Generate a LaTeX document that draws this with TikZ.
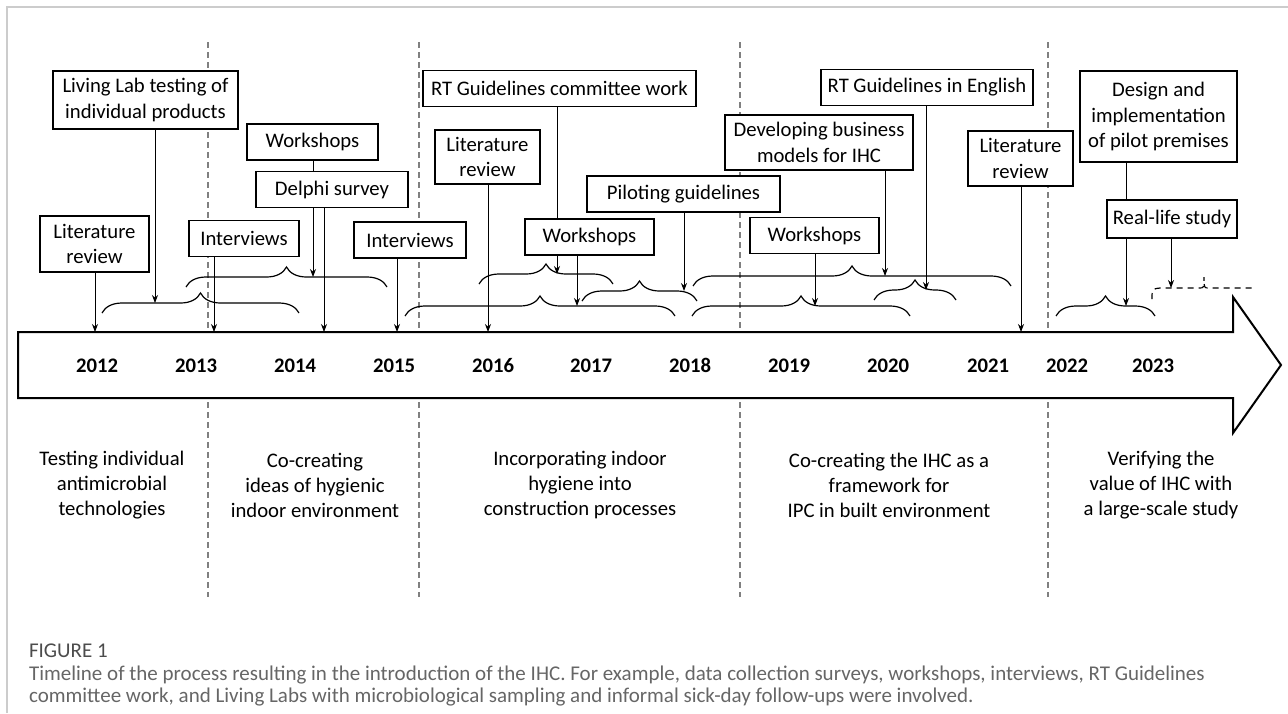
\documentclass[tikz,border=0pt]{standalone}
\usepackage{fontspec}
\setmainfont{Carlito}
\usetikzlibrary{arrows.meta,decorations.pathreplacing}

\begin{document}
\begin{tikzpicture}[x=0.5pt,y=-0.5pt,
    >={Stealth[length=4pt,width=3pt]},
    block/.style={rectangle, draw, line width=0.6pt, fill=white, align=center, inner sep=0pt, minimum height=18pt, font=\fontsize{10.35}{12.8}\selectfont},
    phase/.style={align=center, font=\fontsize{10.35}{12.5}\selectfont},
    year/.style={anchor=base, font=\fontsize{10.35}{12}\selectfont\bfseries},
    divider/.style={gray, line width=0.6pt, dash pattern=on 3pt off 2pt},
    curly/.style={decorate, decoration={brace, amplitude=10pt}, line width=0.6pt},
    caption/.style={anchor=west, text=black!60, font=\fontsize{10.5}{12}\selectfont}]
    \useasboundingbox (0,0) rectangle (1288,713);
    \draw[black!20, line width=1pt] (7,713) -- (7,7) -- (1288,7);

    % phase dividers, then the timeline arrow over them
    \foreach \x in {208,419,740,1048}
        \draw[divider] (\x,42) -- (\x,597);
    \draw[line width=1pt, fill=white] (18,332) -- (1233,332) -- (1233,297) -- (1281,365)
        -- (1233,433) -- (1233,398) -- (18,398) -- cycle;
    \foreach \yr/\x in {2012/97,2013/196,2014/295,2015/394,2016/493,2017/591,2018/690,2019/789,2020/888,2021/988,2022/1067,2023/1153}
        \node[year] (y\yr) at (\x,372) {\yr};

    \node[phase] (p1) at (112,485) {Testing individual\\antimicrobial\\technologies};
    \node[phase] (p2) at (315,485) {Co-creating\\ideas of hygienic\\indoor environment};
    \node[phase] (p3) at (580,485) {Incorporating indoor\\hygiene into\\construction processes};
    \node[phase] (p4) at (889,485) {Co-creating the IHC as a\\framework for\\IPC in built environment};
    \node[phase] (p5) at (1161,485) {Verifying the\\value of IHC with\\a large-scale study};

    % braces over the timeline
    \draw[curly] (102,313) -- (299,313);
    \draw[curly] (186,287) -- (387,287);
    \draw[curly] (479,284) -- (613,284);
    \draw[curly] (582,301) -- (697,301);
    \draw[curly] (405,316) -- (675,316);
    \draw[curly] (693,286) -- (1011,286);
    \draw[curly] (874,300) -- (956,300);
    \draw[curly] (692,316) -- (910,316);
    \draw[curly] (1056,316) -- (1155,316);
    \draw[line width=0.6pt, dash pattern=on 3pt off 2.5pt] (1152,299) .. controls (1152,289) .. (1160,288)
        -- (1199,288) .. controls (1204,288) .. (1204,277) .. controls (1204,288) .. (1209,288) -- (1252,288);

    \coordinate (bA) at (155,303);
    \coordinate (bB) at (313,277);
    \coordinate (bC) at (557,274);
    \coordinate (bD) at (684,291);
    \coordinate (bE) at (577,306);
    \coordinate (bI) at (885,276);
    \coordinate (bG) at (926,290);
    \coordinate (bH) at (815,306);
    \coordinate (bJ) at (1126,306);
    \coordinate (bK) at (1171,288);
    \coordinate (t12) at (95,332);
    \coordinate (t13) at (214,332);
    \coordinate (t14) at (324,332);
    \coordinate (t15) at (397,332);
    \coordinate (t16) at (488,332);
    \coordinate (t21) at (1021,332);

    % 2012-2015
    \node[block, minimum width=92.5pt, minimum height=29pt] (living) at (145.5,100) {Living Lab testing of\\individual products};
    \node[block, minimum width=65.5pt] (ws1) at (312.5,142) {Workshops};
    \draw[->] (ws1.south -| bB) -- (bB);
    \node[block, minimum width=76pt] (delphi) at (332,189.5) {Delphi survey};
    \node[block, minimum width=54.5pt, minimum height=28pt] (lit1) at (94.5,244) {Literature\\review};
    \node[block, minimum width=55pt] (int1) at (244,238.5) {Interviews};
    \node[block, minimum width=56pt] (int2) at (410,240) {Interviews};
    \draw[->] (living.south -| bA) -- (bA);
    \draw[->] (delphi.south -| t14) -- (t14);
    \draw[->] (lit1.south -| t12) -- (t12);
    \draw[->] (int1.south -| t13) -- (t13);
    \draw[->] (int2.south -| t15) -- (t15);

    % 2016-2018
    \node[block, minimum width=136.5pt] (rtc) at (559.5,88.5) {RT Guidelines committee work};
    \draw[->] (rtc.south -| bC) -- (bC);
    \node[block, minimum width=52.5pt, minimum height=27pt] (lit2) at (487.5,157) {Literature\\review};
    \node[block, minimum width=96.5pt] (pilot) at (683.5,194) {Piloting guidelines};
    \node[block, minimum width=64.5pt] (ws2) at (589.5,237) {Workshops};
    \draw[->] (lit2.south -| t16) -- (t16);
    \draw[->] (pilot.south -| bD) -- (bD);
    \draw[->] (ws2.south -| bE) -- (bE);

    % 2019-2021
    \node[block, minimum width=94pt, minimum height=27.5pt] (devel) at (819,142.5) {Developing business\\models for IHC};
    \node[block, minimum width=106pt] (rte) at (927,87.5) {RT Guidelines in English};
    \node[block, minimum width=64.5pt] (ws3) at (814.5,235.5) {Workshops};
    \node[block, minimum width=52.5pt, minimum height=27.5pt] (lit3) at (1020.5,158.5) {Literature\\review};
    \draw[->] (devel.south -| bI) -- (bI);
    \draw[->] (rte.south -| bG) -- (bG);
    \draw[->] (ws3.south -| bH) -- (bH);
    \draw[->] (lit3.south -| t21) -- (t21);

    % 2022-2023
    \node[block, minimum width=78.5pt, minimum height=45.5pt] (design) at (1158.5,116.5) {Design and\\implementation\\of pilot premises};
    \draw[->] (design.south -| bJ) -- (bJ);
    \node[block, minimum width=65pt, minimum height=19pt] (real) at (1172,219) {Real-life study};
    \draw[->] (real.south -| bK) -- (bK);

    \node[caption, text=black!70] (fig) at (22,651) {FIGURE 1};
    \node[caption] (cap1) at (22,675) {Timeline of the process resulting in the introduction of the IHC. For example, data collection surveys, workshops, interviews, RT Guidelines};
    \node[caption] (cap2) at (22,697) {committee work, and Living Labs with microbiological sampling and informal sick-day follow-ups were involved.};
\end{tikzpicture}
\end{document}
